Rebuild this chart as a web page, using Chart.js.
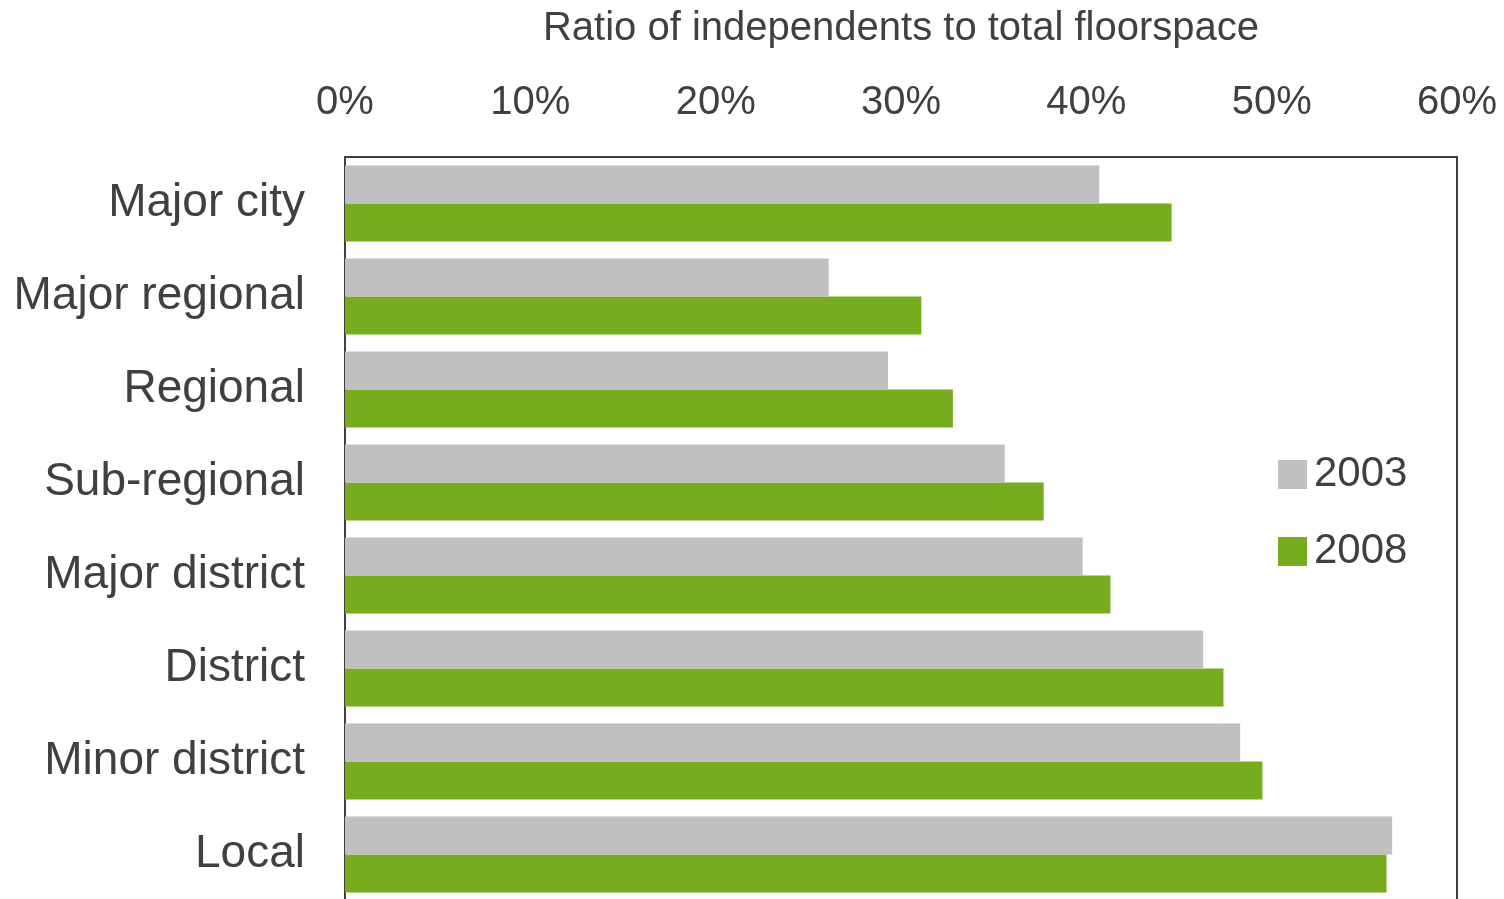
<!DOCTYPE html>
<html>
<head>
<meta charset="utf-8">
<script src="https://cdn.jsdelivr.net/npm/chart.js@4/dist/chart.umd.min.js"></script>
<style>
	html, body { margin: 0; padding: 0; background: #fff; overflow: hidden; }
	#wrap { width: 1504px; height: 903px; }
</style>
</head>
<body>
<div id="wrap"><canvas id="floorspace-chart" width="1504" height="903"></canvas></div>
<script>
var categories = ["Major city", "Major regional", "Regional", "Sub-regional", "Major district", "District", "Minor district", "Local"];
var values2003 = [40.7, 26.1, 29.3, 35.6, 39.8, 46.3, 48.3, 56.5];
var values2008 = [44.6, 31.1, 32.8, 37.7, 41.3, 47.4, 49.5, 56.2];
var xTicks = [0, 10, 20, 30, 40, 50, 60];
var axisTitle = "Ratio of independents to total floorspace";

var FloorspaceChart = (function() {

	var textColor = "#404040";
	var fontFamily = "'Liberation Sans', Arial, sans-serif";

	// right edge of the frame and the legend box inside the plot
	var frame = {
		id: "frame",
		afterDraw: function(chart) {
			var ctx = chart.ctx, a = chart.chartArea;
			ctx.save();
			ctx.strokeStyle = textColor;
			ctx.lineWidth = 2;
			ctx.beginPath();
			ctx.moveTo(a.right, a.top - 1);
			ctx.lineTo(a.right, a.bottom + 4);
			ctx.stroke();

			ctx.font = "42px " + fontFamily;
			ctx.textBaseline = "middle";
			ctx.textAlign = "left";
			chart.data.datasets.forEach(function(ds, i) {
				var x = a.right - 179, y = 460 + i * 77;
				ctx.fillStyle = ds.backgroundColor;
				ctx.fillRect(x, y, 29, 29);
				ctx.fillStyle = textColor;
				ctx.fillText(ds.label, x + 36, y + 14);
			});
			ctx.restore();
		}
	};

	function chart() {
		try {
			new Chart(document.getElementById("floorspace-chart"), {
				type: "bar",
				data: {
					labels: categories,
					datasets: [
						{ label: "2003", data: values2003, backgroundColor: "#C0C0C0" },
						{ label: "2008", data: values2008, backgroundColor: "#77AC1E" }
					]
				},
				options: {
					indexAxis: "y",
					responsive: false,
					animation: false,
					devicePixelRatio: 1,
					categoryPercentage: 0.817,
					barPercentage: 1,
					layout: { padding: { left: 0, right: 47, top: 0, bottom: 2 } },
					plugins: {
						legend: { display: false },
						tooltip: { enabled: false }
					},
					scales: {
						x: {
							position: "top",
							min: 0,
							max: 60,
							afterBuildTicks: function(scale) {
								scale.ticks = xTicks.map(function(v) { return { value: v }; });
							},
							afterFit: function(scale) {
								scale.height = 157;
								scale.paddingLeft = 0;
								scale.paddingRight = 0;
							},
							grid: { display: false, drawTicks: false },
							border: { display: true, color: textColor, width: 2 },
							ticks: {
								color: textColor,
								font: { family: fontFamily, size: 40 },
								padding: 30,
								maxRotation: 0,
								callback: function(v) { return v + "%"; }
							},
							title: {
								display: true,
								text: axisTitle,
								color: textColor,
								font: { family: fontFamily, size: 40 },
								padding: { top: 5, bottom: 0 }
							}
						},
						y: {
							afterFit: function(scale) {
								scale.width = 345;
								scale.paddingTop = 0;
								scale.paddingBottom = 0;
							},
							grid: { display: false, drawTicks: false },
							border: { display: true, color: textColor, width: 2 },
							ticks: {
								color: textColor,
								font: { family: fontFamily, size: 46 },
								padding: 40
							}
						}
					}
				},
				plugins: [frame]
			});
		} catch(e) {
			console.error(e);
		}
	}

	return { render: chart };

})();

FloorspaceChart.render();
</script>
</body>
</html>
